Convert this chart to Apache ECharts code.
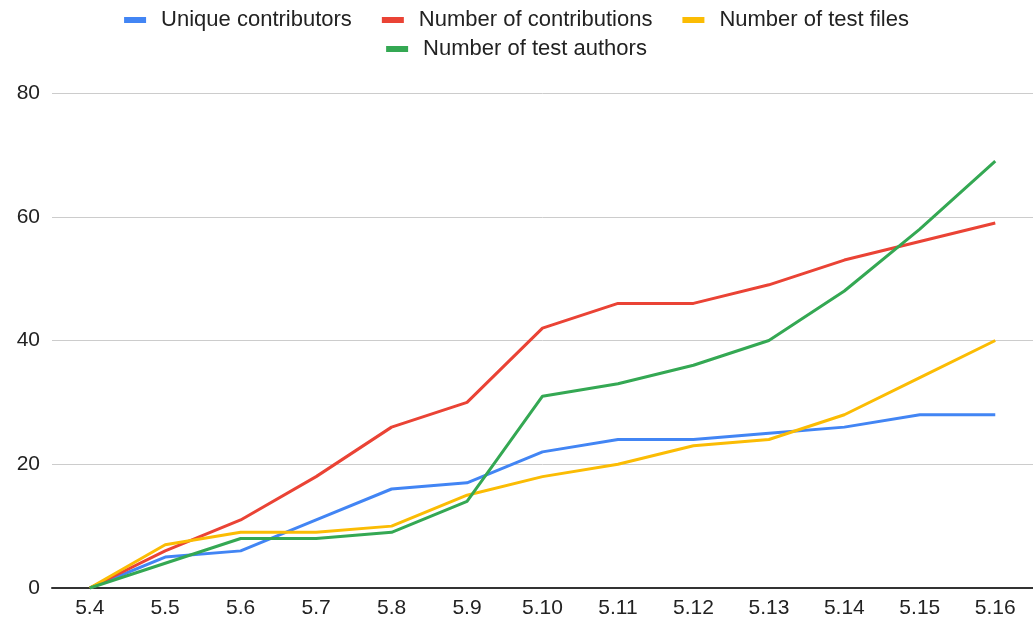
<!DOCTYPE html>
<html>
<head>
<meta charset="utf-8">
<script src="https://cdn.jsdelivr.net/npm/echarts@6/dist/echarts.min.js"></script>
<style>
  html, body { margin: 0; padding: 0; background: #fff; }
  #chart { width: 1033px; height: 620px; }
</style>
</head>
<body>
<div id="chart"></div>
<script>
// Kernel releases on the x axis
const releases = ['5.4', '5.5', '5.6', '5.7', '5.8', '5.9', '5.10', '5.11', '5.12', '5.13', '5.14', '5.15', '5.16'];

// Cumulative counts per release
const uniqueContributors = [0, 5, 6, 11, 16, 17, 22, 24, 24, 25, 26, 28, 28];
const numberOfContributions = [0, 6, 11, 18, 26, 30, 42, 46, 46, 49, 53, 56, 59];
const numberOfTestFiles = [0, 7, 9, 9, 10, 15, 18, 20, 23, 24, 28, 34, 40];
const numberOfTestAuthors = [0, 4, 8, 8, 9, 14, 31, 33, 36, 40, 48, 58, 69];

const yTicks = [0, 20, 40, 60, 80];

const FONT = '"Liberation Sans", Arial, sans-serif';

function line(name, data, color) {
  return {
    name: name,
    type: 'line',
    data: data,
    symbol: 'none',
    smooth: false,
    lineStyle: { width: 3, color: color },
    itemStyle: { color: color }
  };
}

const legendText = { fontFamily: FONT, fontSize: 22, color: '#222', padding: [0, 0, 0, 10] };

const chart = echarts.init(document.getElementById('chart'), null, { renderer: 'canvas' });
chart.setOption({
  animation: false,
  backgroundColor: '#fff',
  textStyle: { fontFamily: FONT },
  legend: [
    {
      data: ['Unique contributors', 'Number of contributions', 'Number of test files'],
      top: 4,
      left: 'center',
      icon: 'rect',
      itemWidth: 22,
      itemHeight: 6,
      itemGap: 30,
      textStyle: legendText
    },
    {
      data: ['Number of test authors'],
      top: 33,
      left: 'center',
      icon: 'rect',
      itemWidth: 22,
      itemHeight: 6,
      textStyle: legendText
    }
  ],
  grid: { left: 52, right: 0, top: 93, bottom: 32, containLabel: false },
  xAxis: {
    type: 'category',
    data: releases,
    boundaryGap: true,
    axisLine: { show: true, lineStyle: { color: '#333', width: 2 } },
    axisTick: { show: false },
    axisLabel: { fontFamily: FONT, fontSize: 21, color: '#222', margin: 10 }
  },
  yAxis: {
    type: 'value',
    min: yTicks[0],
    max: yTicks[yTicks.length - 1],
    interval: 20,
    axisLine: { show: false },
    axisTick: { show: false },
    splitLine: { lineStyle: { color: '#ccc', width: 1 } },
    axisLabel: { fontFamily: FONT, fontSize: 21, color: '#222', margin: 12 }
  },
  series: [
    line('Unique contributors', uniqueContributors, '#4285F4'),
    line('Number of contributions', numberOfContributions, '#EA4335'),
    line('Number of test files', numberOfTestFiles, '#FBBC04'),
    line('Number of test authors', numberOfTestAuthors, '#34A853')
  ]
});
</script>
</body>
</html>
